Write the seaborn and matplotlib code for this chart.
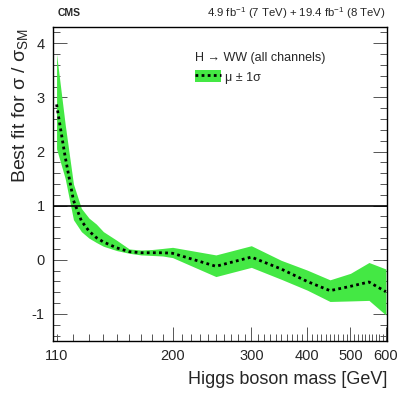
import matplotlib
matplotlib.use("Agg")
import matplotlib.pyplot as plt
import matplotlib.ticker as mticker
from matplotlib.patches import Patch
from matplotlib.lines import Line2D
import numpy as np
import pandas as pd
import seaborn as sns

# Higgs mass points and best fit signal strength
mass = [110, 115, 120, 125, 130, 135, 140, 150, 160, 170, 180, 190, 200,
        250, 300, 350, 400, 450, 500, 550, 600]
mu = [2.87, 1.90, 1.10, 0.72, 0.53, 0.41, 0.33, 0.22, 0.15, 0.13, 0.13, 0.13, 0.12,
      -0.12, 0.05, -0.17, -0.40, -0.57, -0.49, -0.41, -0.59]
mu_lo = [2.05, 1.50, 0.74, 0.52, 0.40, 0.32, 0.25, 0.17, 0.12, 0.09, 0.08, 0.07, 0.04,
         -0.31, -0.14, -0.36, -0.56, -0.77, -0.76, -0.75, -1.02]
mu_hi = [3.80, 2.50, 1.40, 0.95, 0.77, 0.66, 0.52, 0.36, 0.20, 0.18, 0.19, 0.21, 0.23,
         0.09, 0.26, -0.01, -0.19, -0.37, -0.25, -0.05, -0.17]

xticks = [110, 200, 300, 400, 500, 600]
yticks = [-1, 0, 1, 2, 3, 4]

df = pd.DataFrame({'mass': mass, 'mu': mu, 'lo': mu_lo, 'hi': mu_hi})

sns.set_style("ticks")
plt.rcParams['font.family'] = ['Liberation Sans', 'DejaVu Sans']
plt.rcParams['mathtext.fontset'] = 'custom'
plt.rcParams['mathtext.rm'] = 'Liberation Sans'
plt.rcParams['mathtext.it'] = 'Liberation Sans'
plt.rcParams['axes.unicode_minus'] = False

green = '#44e844'

fig = plt.figure(figsize=(4.07, 3.93), dpi=100)
ax = fig.add_axes([53 / 407, 1 - 341 / 393, 333.5 / 407, 314 / 393])

ax.fill_between(df['mass'], df['lo'], df['hi'], color=green, lw=0)
sns.lineplot(data=df, x='mass', y='mu', ax=ax, color='black', lw=2.0,
             linestyle=(0, (1, 1.2)))
ax.axhline(1, color='black', lw=1.2)

ax.set_xscale('log')
ax.set_xlim(108, 602)
ax.set_ylim(-1.5, 4.3)

ax.xaxis.set_major_locator(mticker.FixedLocator(xticks))
ax.xaxis.set_major_formatter(mticker.FixedFormatter([str(t) for t in xticks]))
minors = [m for m in range(110, 601, 10) if m not in xticks]
ax.xaxis.set_minor_locator(mticker.FixedLocator(minors))
ax.xaxis.set_minor_formatter(mticker.NullFormatter())
ax.yaxis.set_major_locator(mticker.FixedLocator(yticks))
ax.yaxis.set_minor_locator(mticker.MultipleLocator(0.2))

ax.tick_params(which='both', direction='in', right=True, top=False,
               color='#555555', width=0.7, labelsize=10.5, pad=6)
ax.tick_params(which='major', length=10)
ax.tick_params(which='minor', length=5)
ax.xaxis.get_major_ticks()[0].tick1line.set_markersize(5)
for s in ax.spines.values():
    s.set_color('black')
    s.set_linewidth(1.0)

ax.set_xlabel('')
ax.set_ylabel('')

fig.text(387 / 407, 1 - 380 / 393, 'Higgs boson mass [GeV]', ha='right', va='center',
         fontsize=13)
fig.text(20 / 407, 1 - 28 / 393, r'Best fit for σ / σ$_{\mathrm{SM}}$', rotation=90,
         ha='center', va='top', fontsize=14)
fig.text(58 / 407, 1 - 13 / 393, 'CMS', ha='left', va='center', fontsize=7.5,
         fontweight='bold')
fig.text(386 / 407, 1 - 13 / 393, r'4.9 fb$^{-1}$ (7 TeV) + 19.4 fb$^{-1}$ (8 TeV)',
         ha='right', va='center', fontsize=8.2)

band = Patch(facecolor=green, edgecolor='none')
dots = Line2D([], [], color='black', lw=2.0, linestyle=(0, (1, 1.2)))
leg = ax.legend(handles=[(band, dots)], labels=['μ ± 1σ'],
                title='H → WW (all channels)', loc='upper left',
                bbox_to_anchor=(0.406, 0.94), frameon=False, fontsize=9,
                title_fontsize=9, handlelength=2.1, handleheight=1.1,
                handletextpad=0.3, borderpad=0, alignment='left')

fig.savefig('out.png', dpi=100)
